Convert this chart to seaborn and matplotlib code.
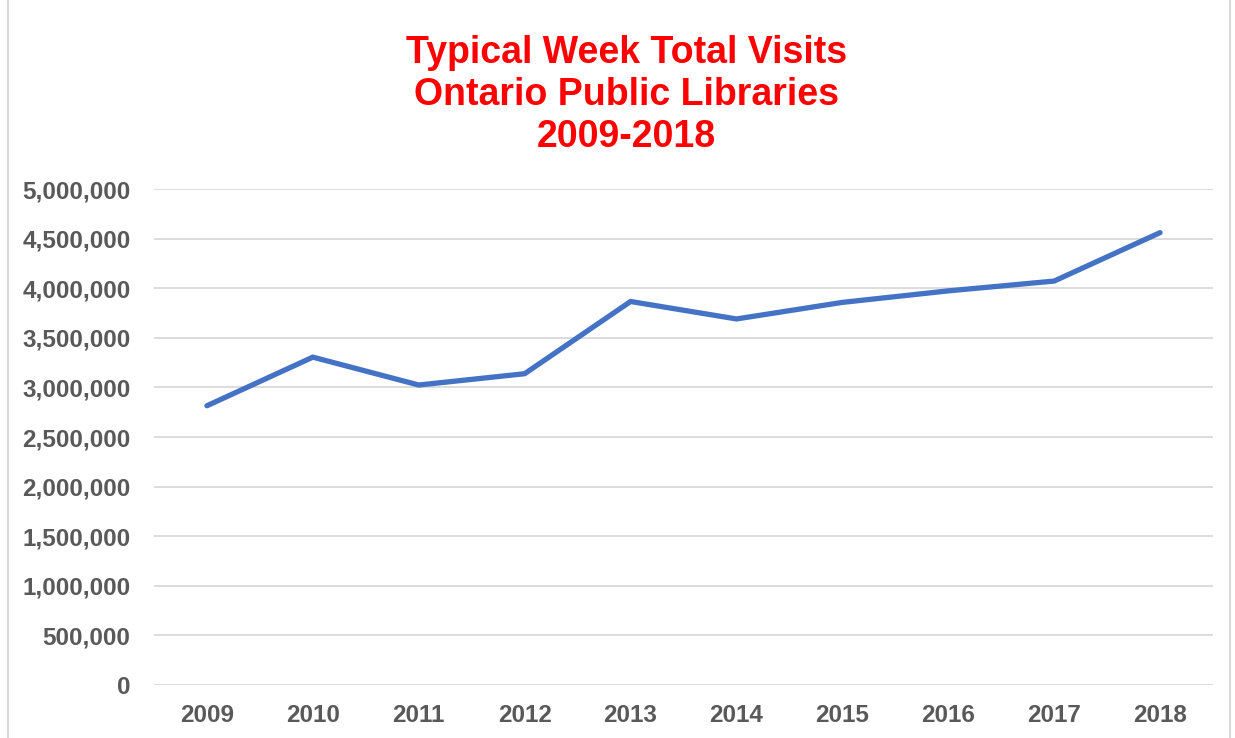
import numpy as np
import pandas as pd
import seaborn as sns
import matplotlib
matplotlib.use("Agg")
from matplotlib import pyplot as plt
from matplotlib.ticker import FuncFormatter
from matplotlib.patches import Rectangle

# data
years = [2009, 2010, 2011, 2012, 2013, 2014, 2015, 2016, 2017, 2018]
visits = [2815000, 3305000, 3024000, 3138000, 3866000, 3690000, 3857000, 3973000, 4072000, 4560000]
title_lines = ["Typical Week Total Visits", "Ontario Public Libraries", "2009-2018"]

df = pd.DataFrame({"year": years, "visits": visits})

sns.set_theme(style="white")
plt.rcParams['font.family'] = ['Liberation Sans', 'DejaVu Sans']

fig = plt.figure(figsize=(12.35, 7.38), dpi=100)
ax = fig.add_axes([154/1235, 1 - 685/738, (1213 - 154)/1235, (685 - 189)/738])

sns.lineplot(data=df, x="year", y="visits", ax=ax, color="#4472C4", linewidth=3.8,
             solid_capstyle="round", solid_joinstyle="miter")

ax.set_xlim(years[0] - 0.5, years[-1] + 0.5)
ax.set_ylim(0, 5000000)
ax.set_yticks(np.arange(0, 5000001, 500000))
ax.set_xticks(years)
ax.yaxis.set_major_formatter(FuncFormatter(lambda v, p: f"{int(v):,}"))
ax.grid(axis="y", color="#D9D9D9", linewidth=1.3)
ax.set_axisbelow(True)
for s in ax.spines.values():
    s.set_visible(False)
ax.set_xlabel("")
ax.set_ylabel("")
ax.tick_params(axis="y", length=0, pad=17, labelsize=17.5, labelcolor="#595959")
ax.tick_params(axis="x", length=0, pad=14, labelsize=17.5, labelcolor="#595959")
for lab in ax.get_xticklabels() + ax.get_yticklabels():
    lab.set_fontweight("bold")

fig.text(0.507, 1 - 95/738, "\n".join(title_lines), ha="center", va="center",
         fontsize=27, fontweight="bold", color="#FF0000", linespacing=1.2)

# chart border
fig.patches.append(Rectangle((8/1235, -0.01), 1222/1235, 1.02, transform=fig.transFigure,
                             fill=False, edgecolor="#D9D9D9", linewidth=1.5))

plt.savefig("out.png", dpi=100)
